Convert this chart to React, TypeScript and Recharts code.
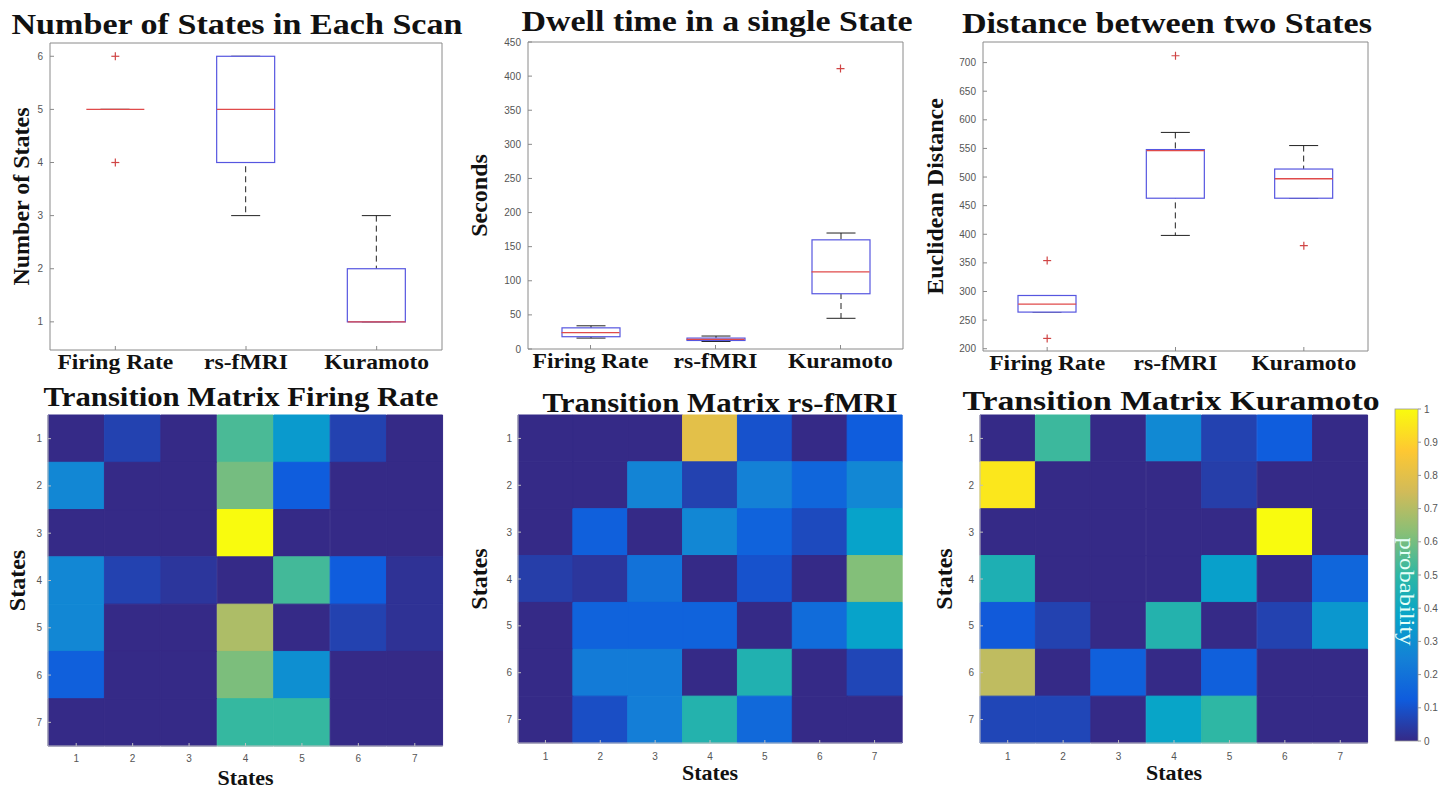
import React from "react";
import { ComposedChart, BarChart, Bar, Scatter, XAxis, YAxis, Cell } from "recharts";

const SERIF = "'Liberation Serif', 'Times New Roman', serif";
const SANS = "'Liberation Sans', Arial, sans-serif";

const GROUPS = ["Firing Rate", "rs-fMRI", "Kuramoto"];
const STATES = ["1", "2", "3", "4", "5", "6", "7"];

// box stats per group: [lower whisker, q1, median, q3, upper whisker]
const statesCount = [
  [5, 5, 5, 5, 5],
  [3, 4, 5, 6, 6],
  [1, 1, 1, 2, 3],
];
const statesOutliers = [[6, 4], [], []];
const statesTicks = [1, 2, 3, 4, 5, 6];

const dwellTime = [
  [16, 18, 24, 31, 34],
  [11, 12.5, 14, 16, 19],
  [45, 81, 113, 160, 170],
];
const dwellOutliers = [[], [], [411]];
const dwellTicks = [0, 50, 100, 150, 200, 250, 300, 350, 400, 450];

const distance = [
  [264, 264, 278, 293, 293],
  [398, 463, 546, 548, 578],
  [463, 463, 497, 514, 555],
];
const distanceOutliers = [[218, 354], [712], [380]];
const distanceTicks = [200, 250, 300, 350, 400, 450, 500, 550, 600, 650, 700];

// transition probabilities, rows = from state, cols = to state
const firingMatrix = [
  [0, 0.06, 0, 0.54, 0.34, 0.06, 0],
  [0.27, 0, 0, 0.6, 0.13, 0, 0],
  [0, 0, 0, 1, 0, 0, 0],
  [0.27, 0.06, 0.03, 0, 0.53, 0.13, 0.02],
  [0.27, 0, 0, 0.69, 0, 0.06, 0.02],
  [0.14, 0, 0, 0.61, 0.3, 0, 0],
  [0, 0, 0, 0.51, 0.51, 0, 0],
];
const fmriMatrix = [
  [0, 0, 0, 0.8, 0.1, 0, 0.13],
  [0, 0, 0.26, 0.06, 0.25, 0.16, 0.27],
  [0, 0.14, 0, 0.27, 0.15, 0.08, 0.37],
  [0.05, 0.03, 0.2, 0, 0.1, 0, 0.62],
  [0, 0.15, 0.15, 0.15, 0, 0.18, 0.37],
  [0, 0.23, 0.23, 0, 0.46, 0, 0.07],
  [0, 0.09, 0.24, 0.47, 0.17, 0, 0],
];
const kuramotoMatrix = [
  [0, 0.52, 0, 0.28, 0.06, 0.13, 0],
  [0.95, 0, 0, 0, 0.05, 0, 0],
  [0, 0, 0, 0, 0, 1, 0],
  [0.45, 0, 0, 0, 0.36, 0, 0.16],
  [0.12, 0.06, 0, 0.47, 0, 0.06, 0.33],
  [0.72, 0, 0.14, 0, 0.14, 0, 0],
  [0.07, 0.07, 0, 0.38, 0.5, 0, 0],
];
const probTicks = [0, 0.1, 0.2, 0.3, 0.4, 0.5, 0.6, 0.7, 0.8, 0.9, 1];

const PARULA = ["#352a87", "#0f5cdd", "#1481d6", "#06a4ca", "#2eb7a4", "#87bf77", "#d1bb59", "#fec832", "#f9fb0e"];

function parula(v: number) {
  const t = Math.max(0, Math.min(1, v)) * (PARULA.length - 1);
  const i = Math.min(Math.floor(t), PARULA.length - 2);
  const f = t - i;
  const a = PARULA[i], b = PARULA[i + 1];
  const ch = (h: string, k: number) => parseInt(h.slice(1 + k * 2, 3 + k * 2), 16);
  const c = [0, 1, 2].map((k) => Math.round(ch(a, k) + (ch(b, k) - ch(a, k)) * f));
  return `rgb(${c[0]},${c[1]},${c[2]})`;
}

const BOX_W = 58;
const FRAME = "#8a8a8a";

const WhiskerShape = (p: any) => {
  const top = Math.min(p.y, p.y + p.height);
  const bot = Math.max(p.y, p.y + p.height);
  const cx = p.x + p.width / 2;
  const cap = p.width / 4;
  return (
    <g>
      <line x1={cx} x2={cx} y1={top} y2={bot} stroke="#222" strokeDasharray="6 4" />
      <line x1={cx - cap} x2={cx + cap} y1={top} y2={top} stroke="#222" />
      <line x1={cx - cap} x2={cx + cap} y1={bot} y2={bot} stroke="#222" />
    </g>
  );
};

const BoxShape = (p: any) => {
  const top = Math.min(p.y, p.y + p.height);
  const h = Math.abs(p.height);
  return <rect x={p.x} y={top} width={p.width} height={h} fill="#fff" stroke="#5656e0" strokeWidth={1.2} />;
};

const MedianShape = (p: any) => (
  <line x1={p.cx - BOX_W / 2} x2={p.cx + BOX_W / 2} y1={p.cy} y2={p.cy} stroke="#e04a4a" strokeWidth={1.3} />
);

const PlusShape = (p: any) => (
  <g stroke="#d04545" strokeWidth={1.2}>
    <line x1={p.cx - 4} x2={p.cx + 4} y1={p.cy} y2={p.cy} />
    <line x1={p.cx} x2={p.cx} y1={p.cy - 4} y2={p.cy + 4} />
  </g>
);

const CatTick = (p: any) => (
  <g transform={`translate(${p.x},${p.y})`}>
    <text transform="scale(1.18,1)" textAnchor="middle" dy={15} fontFamily={SERIF} fontWeight="bold" fontSize={20} fill="#111">
      {p.payload.value}
    </text>
  </g>
);

const numTick = { fontSize: 10, fill: "#555", fontFamily: SANS };
const axisTitle = { fontFamily: SERIF, fontWeight: "bold", fontSize: 24, fill: "#111", textAnchor: "middle" } as any;

function BoxPanel(props: any) {
  const { pos, stats, outliers, domain, ticks, yLabel } = props;
  const data = GROUPS.map((name, i) => ({
    name,
    whisk: [stats[i][0], stats[i][4]],
    box: [stats[i][1], stats[i][3]],
    med: stats[i][2],
  }));
  const outData = GROUPS.flatMap((name, i) => outliers[i].map((v: number) => ({ name, v })));
  return (
    <div style={{ position: "absolute", left: pos.left, top: 0 }}>
      <ComposedChart width={pos.width} height={380} data={data} margin={{ top: pos.mt, right: pos.mr, bottom: 0, left: pos.ml }}>
        <XAxis xAxisId="w" dataKey="name" hide />
        <XAxis xAxisId="t" dataKey="name" orientation="top" height={1} tick={false} tickSize={-4} stroke={FRAME} />
        <XAxis
          xAxisId="b"
          dataKey="name"
          allowDuplicatedCategory={false}
          height={pos.xh}
          tickSize={-4}
          tickMargin={8}
          tick={<CatTick />}
          stroke={FRAME}
        />
        <YAxis
          domain={domain}
          ticks={ticks}
          allowDataOverflow
          width={pos.yw}
          tickSize={-4}
          tickMargin={11}
          tick={numTick}
          stroke={FRAME}
          label={{ value: yLabel, angle: -90, position: "insideLeft", offset: pos.lo, style: axisTitle }}
        />
        <YAxis yAxisId="r" orientation="right" domain={domain} ticks={ticks} allowDataOverflow width={1} tick={false} tickSize={-4} stroke={FRAME} />
        <Bar xAxisId="w" dataKey="whisk" barSize={BOX_W} shape={WhiskerShape} isAnimationActive={false} />
        <Bar xAxisId="b" dataKey="box" barSize={BOX_W} shape={BoxShape} isAnimationActive={false} />
        <Scatter xAxisId="b" dataKey="med" shape={MedianShape} isAnimationActive={false} />
        <Scatter xAxisId="b" data={outData} dataKey="v" shape={PlusShape} isAnimationActive={false} />
      </ComposedChart>
    </div>
  );
}

function HeatPanel(props: any) {
  const { pos, matrix } = props;
  const data = STATES.map((s) => {
    const row: any = { col: s };
    STATES.forEach((_, r) => (row[`r${r}`] = 1));
    return row;
  });
  return (
    <div style={{ position: "absolute", left: pos.left, top: 380 }}>
      <BarChart width={pos.width} height={409} data={data} margin={{ top: 35, right: pos.mr, bottom: 0, left: pos.ml }} barCategoryGap={0} barGap={0}>
        <XAxis
          dataKey="col"
          height={pos.xh}
          tickSize={-3}
          tickMargin={pos.tm}
          tick={numTick}
          stroke="#c0c0c0"
          label={{ value: "States", position: "insideBottom", offset: pos.xo, style: { ...axisTitle, fontSize: 22 } }}
        />
        <YAxis
          type="number"
          domain={[0, 7]}
          reversed
          ticks={STATES.map((_, i) => i + 0.5)}
          tickFormatter={(v: number) => STATES[Math.floor(v)]}
          width={pos.yw}
          tickSize={-3}
          tickMargin={9}
          tick={numTick}
          stroke="#c0c0c0"
          label={{ value: "States", angle: -90, position: "insideLeft", offset: pos.lo, style: axisTitle }}
        />
        {STATES.map((_, r) => (
          <Bar key={r} dataKey={`r${r}`} stackId="m" isAnimationActive={false}>
            {STATES.map((_, c) => (
              <Cell key={c} fill={parula(matrix[r][c])} stroke={parula(matrix[r][c])} strokeWidth={1} />
            ))}
          </Bar>
        ))}
      </BarChart>
    </div>
  );
}

const ColorbarShape = (p: any) => (
  <g>
    <defs>
      <linearGradient id="parulaGrad" x1="0" y1="1" x2="0" y2="0">
        {PARULA.map((c, i) => (
          <stop key={i} offset={i / (PARULA.length - 1)} stopColor={c} />
        ))}
      </linearGradient>
    </defs>
    <rect x={p.x} y={p.y} width={p.width} height={p.height} fill="url(#parulaGrad)" stroke="#999" strokeWidth={0.8} />
    <text
      transform={`translate(${p.x + p.width / 2},${p.y + p.height * 0.55}) rotate(90)`}
      textAnchor="middle"
      dy="0.32em"
      fontFamily={SERIF}
      fontSize={20}
      fill="#e6fff8"
      textLength={108}
      lengthAdjust="spacingAndGlyphs"
    >
      probability
    </text>
  </g>
);

const TITLES = [
  { text: "Number of States in Each Scan", x: 237, y: 34, w: 451, size: 29 },
  { text: "Dwell time in a single State", x: 717, y: 31, w: 391, size: 29 },
  { text: "Distance between two States", x: 1167, y: 33, w: 410, size: 29 },
  { text: "Transition Matrix Firing Rate", x: 241, y: 406, w: 395, size: 27 },
  { text: "Transition Matrix rs-fMRI", x: 720, y: 412, w: 355, size: 27 },
  { text: "Transition Matrix Kuramoto", x: 1171, y: 410, w: 417, size: 27 },
];

const App = () => {
  return (
    <div style={{ position: "absolute", left: 0, top: 0, width: 1451, height: 789, background: "#fff", overflow: "hidden" }}>
      <BoxPanel
        pos={{ left: 0, width: 460, mt: 42, mr: 17, ml: 0, xh: 30, yw: 50, lo: 20 }}
        stats={statesCount}
        outliers={statesOutliers}
        domain={[0.47, 6.25]}
        ticks={statesTicks}
        yLabel="Number of States"
      />
      <BoxPanel
        pos={{ left: 460, width: 460, mt: 41, mr: 16, ml: 10, xh: 31, yw: 58, lo: 8 }}
        stats={dwellTime}
        outliers={dwellOutliers}
        domain={[0, 450]}
        ticks={dwellTicks}
        yLabel="Seconds"
      />
      <BoxPanel
        pos={{ left: 918, width: 472, mt: 41, mr: 21, ml: 12, xh: 29, yw: 53, lo: 4 }}
        stats={distance}
        outliers={distanceOutliers}
        domain={[196, 736]}
        ticks={distanceTicks}
        yLabel="Euclidean Distance"
      />
      <HeatPanel pos={{ left: 0, width: 460, mr: 17, ml: 0, xh: 43, yw: 48, lo: 16, xo: 4, tm: 12 }} matrix={firingMatrix} />
      <HeatPanel pos={{ left: 460, width: 460, mr: 18, ml: 10, xh: 46, yw: 48, lo: 8, xo: 9, tm: 13 }} matrix={fmriMatrix} />
      <HeatPanel pos={{ left: 918, width: 472, mr: 22, ml: 12, xh: 46, yw: 50, lo: 13, xo: 9, tm: 13 }} matrix={kuramotoMatrix} />
      <div style={{ position: "absolute", left: 1390, top: 380 }}>
        <BarChart width={61} height={409} data={[{ name: "p", v: [0, 1] }]} margin={{ top: 29, right: 0, bottom: 48, left: 5 }} barCategoryGap={0}>
          <XAxis dataKey="name" hide />
          <YAxis orientation="right" domain={[0, 1]} ticks={probTicks} width={33} tickSize={3} tickMargin={3} tick={numTick} stroke="#999" axisLine={false} />
          <Bar dataKey="v" shape={ColorbarShape} isAnimationActive={false} />
        </BarChart>
      </div>
      <svg width={1451} height={789} style={{ position: "absolute", left: 0, top: 0, pointerEvents: "none" }}>
        {TITLES.map((t) => (
          <text
            key={t.text}
            x={t.x}
            y={t.y}
            textAnchor="middle"
            fontFamily={SERIF}
            fontWeight="bold"
            fontSize={t.size}
            fill="#111"
            textLength={t.w}
            lengthAdjust="spacingAndGlyphs"
          >
            {t.text}
          </text>
        ))}
      </svg>
    </div>
  );
};

export default App;
